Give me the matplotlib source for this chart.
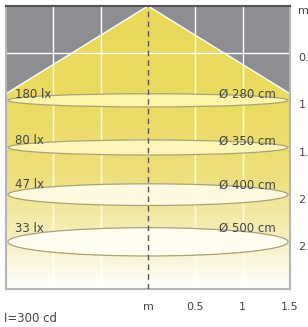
import numpy as np
import matplotlib.pyplot as plt
from matplotlib.patches import Ellipse, Polygon
from matplotlib.colors import LinearSegmentedColormap

# illuminance rings below the luminaire
depths = [1.0, 1.5, 2.0, 2.5]
lux = ['180 lx', '80 lx', '47 lx', '33 lx']
diameters = ['Ø 280 cm', 'Ø 350 cm', 'Ø 400 cm', 'Ø 500 cm']
ring_heights = [0.14, 0.16, 0.23, 0.30]
ring_colors = ['#fdf5a8', '#fdf6b8', '#fefae0', '#fffdf0']

cone_edge_depth = 0.93
half_width = 1.5
max_depth = 3.0

x_ticks = [0, 0.5, 1, 1.5]
x_labels = ['m', '0.5', '1', '1.5']
y_ticks = [0, 0.5, 1, 1.5, 2, 2.5]
y_labels = ['m', '0.5', '1', '1.5', '2', '2.5']

plt.rcParams['font.family'] = 'DejaVu Sans'
fig = plt.figure(figsize=(3.08, 3.27), dpi=100)
ax = fig.add_axes([6 / 308, 38 / 327, 284 / 308, 283 / 327])
ax.set_xlim(-half_width, half_width)
ax.set_ylim(max_depth, 0)
ax.set_facecolor('#8e8e92')

# yellow light cone with a fade to white
cmap = LinearSegmentedColormap.from_list('cone', [
    (0.0, '#e9d85a'), (0.35, '#eadb62'), (0.6, '#eedf7c'),
    (0.85, '#f8f1c8'), (1.0, '#ffffff')])
grad = np.linspace(0, 1, 256).reshape(-1, 1)
img = ax.imshow(grad, cmap=cmap, aspect='auto',
                extent=[-half_width, half_width, max_depth, 0], zorder=1)
cone = Polygon([(0, 0), (-half_width, cone_edge_depth), (-half_width, max_depth),
                (half_width, max_depth), (half_width, cone_edge_depth)],
               closed=True, facecolor='none', edgecolor='none')
ax.add_patch(cone)
img.set_clip_path(cone)
ax.plot([-half_width, 0, half_width], [cone_edge_depth, 0, cone_edge_depth],
        color='white', lw=1, zorder=2)

# grid
for gx in [-1, -0.5, 0.5, 1]:
    ax.axvline(gx, color='white', lw=1, zorder=2)
for gy in y_ticks[1:]:
    ax.axhline(gy, color='white', lw=1, zorder=2)

# rings
for d, h, c in zip(depths, ring_heights, ring_colors):
    ax.add_patch(Ellipse((0, d), 2 * half_width - 0.04, h, facecolor=c,
                         edgecolor='#a8a27a', lw=0.9, zorder=3))

ax.axvline(0, color='#555555', lw=1, ls=(0, (4, 3)), zorder=4)

for d, h, lab, dia in zip(depths, ring_heights, lux, diameters):
    ax.text(-1.41, d - h / 2 + 0.01, lab, fontsize=8.5, color='#444444',
            ha='left', va='center', zorder=5)
    ax.text(1.35, d - h / 2 + 0.01, dia, fontsize=8.5, color='#444444',
            ha='right', va='center', zorder=5)

for side in ['left', 'bottom', 'right']:
    ax.spines[side].set_color('#b5b5b5')
    ax.spines[side].set_linewidth(1.5)
ax.spines['top'].set_color('#555555')
ax.spines['top'].set_linewidth(1.5)

ax.set_xticks(x_ticks)
ax.set_xticklabels(x_labels, fontsize=8, color='#444444')
ax.yaxis.tick_right()
ax.set_yticks(y_ticks)
ax.set_yticklabels(y_labels, fontsize=8, color='#444444')
ax.tick_params(axis='x', length=0, pad=9)
ax.tick_params(axis='y', length=0, pad=6)
for t in ax.get_yticklabels():
    t.set_va('top')

fig.text(4 / 308, 1 - 318 / 327, 'I=300 cd', fontsize=8.5, color='#444444',
         ha='left', va='center')

fig.savefig('out.png', dpi=100)
